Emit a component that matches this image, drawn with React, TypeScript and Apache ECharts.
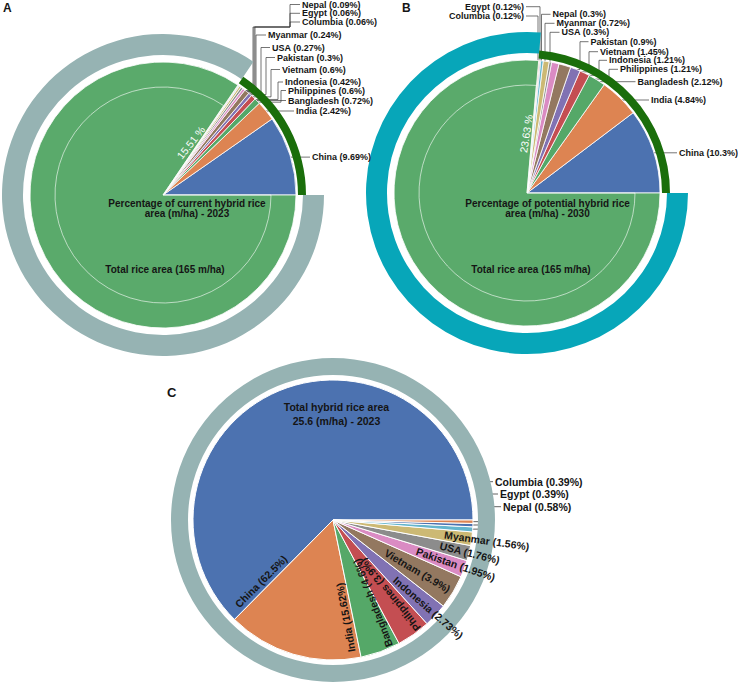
import React, { useEffect, useRef } from "react";
import * as echarts from "echarts";

// ---------- data ----------
const countries = ["China", "India", "Bangladesh", "Philippines", "Indonesia", "Vietnam", "Pakistan", "USA", "Myanmar", "Nepal", "Egypt", "Columbia"];
// % of total rice area under hybrid rice, 2023 (panel A)
const currentShare2023 = [9.69, 2.42, 0.72, 0.6, 0.42, 0.6, 0.3, 0.27, 0.24, 0.09, 0.06, 0.06];
// % of total rice area, potential hybrid rice, 2030 (panel B)
const potentialShare2030 = [10.3, 4.84, 2.12, 1.21, 1.21, 1.45, 0.9, 0.3, 0.72, 0.3, 0.12, 0.12];
// share of total hybrid rice area, 2023 (panel C)
const hybridAreaShare2023 = [62.5, 15.62, 4.6, 3.9, 2.73, 3.9, 1.95, 1.76, 1.56, 0.58, 0.39, 0.39];
const hybridTotalA = 15.51;
const hybridTotalB = 23.63;
const totalRiceArea = 165;
const totalHybridArea = 25.6;

// ---------- style / layout ----------
const FONT = "'Liberation Sans', Arial, Helvetica, sans-serif";
const countryColors = ["#4C72B0", "#DD8452", "#55A868", "#C44E52", "#8172B3", "#937860", "#DA8BC3", "#8C8C8C", "#CCB974", "#64B5CD", "#4C72B0", "#DD8452"];
const restGreen = "#5AAA6B";
const darkGreen = "#1A6E0B";
const greyRing = "#96B3B3";
const tealRing = "#07A6B9";
const TRANSPARENT = "rgba(0,0,0,0)";
const TXT = "#151515";

const CA = [163, 195];
const CB = [527, 193];
const CC = [333, 520];
const R_AB = 133;
const R_C = 140;

type Place = { lx: number; ly?: number; ex?: number; ey?: number; vx?: number; right?: boolean };

const placeA: Place[] = [
  { lx: 312 },
  { lx: 296, ly: 111 },
  { lx: 288, ly: 100.5 },
  { lx: 288, ly: 90.5, ex: 281 },
  { lx: 285, ly: 82, ex: 278 },
  { lx: 282, ly: 69.5, ex: 271 },
  { lx: 277, ly: 57.5, ex: 266 },
  { lx: 272, ly: 47.5, ex: 261 },
  { lx: 268, ly: 35, ex: 256 },
  { lx: 302, ly: 4.5, vx: 255, ex: 290, ey: 27 },
  { lx: 302, ly: 13.3, vx: 254, ex: 290, ey: 27 },
  { lx: 302, ly: 22, vx: 253, ex: 290, ey: 27 },
];

const placeB: Place[] = [
  { lx: 679 },
  { lx: 651, ly: 100 },
  { lx: 637.5, ly: 81.7 },
  { lx: 620, ly: 69.3, ex: 609 },
  { lx: 609, ly: 60.3, ex: 599 },
  { lx: 600, ly: 51.7, ex: 589 },
  { lx: 590.5, ly: 41.7, ex: 580 },
  { lx: 561.5, ly: 32.3, ex: 550 },
  { lx: 556.5, ly: 23.3, ex: 545 },
  { lx: 552.5, ly: 14.3, ex: 541.5 },
  { lx: 524, ly: 6.7, ex: 540, right: true },
  { lx: 524, ly: 16, ex: 538, right: true },
];

type InPlace = { a: number; r: number; rot: number };
const placeCInside: (InPlace | null)[] = [
  { a: 220.7, r: 94.6, rot: 45 },
  { a: -82.7, r: 98.3, rot: 100 },
  { a: -64.5, r: 92, rot: 111 },
  { a: -52.5, r: 94, rot: 129 },
  { a: -42.6, r: 129.4, rot: -41 },
  { a: -31, r: 98.6, rot: -30.5 },
  { a: -19.8, r: 130.5, rot: -19 },
  { a: -13.7, r: 140.7, rot: -14 },
  { a: -7.8, r: 155.1, rot: -8 },
  null,
  null,
  null,
];
const placeCOutside: (Place | null)[] = [
  null, null, null, null, null, null, null, null, null,
  { lx: 503, ly: 506.7, ex: 493 },
  { lx: 500, ly: 494, ex: 488 },
  { lx: 495, ly: 481.7, ex: 483 },
];

const sum = (a: number[]) => a.reduce((s, v) => s + v, 0);

function midAngles(values: number[], total: number) {
  let cum = 0;
  return values.map((v) => {
    const m = ((cum + v / 2) / total) * 360;
    cum += v;
    return m;
  });
}

function polar(c: number[], r: number, deg: number) {
  const a = (deg * Math.PI) / 180;
  return [c[0] + r * Math.cos(a), c[1] - r * Math.sin(a)];
}

function outsideLayout(center: number[], radius: number, values: number[], total: number, places: (Place | null)[], sf: number) {
  const mids = midAngles(values, total);
  return (params: any) => {
    const p = places[params.dataIndex];
    if (!p) return {};
    const [sx, sy] = polar(center, radius * sf, mids[params.dataIndex]);
    const ly = p.ly ?? sy;
    const ey = p.ey ?? sy;
    const ex = p.ex ?? sx;
    const vx = p.vx ?? sx;
    const right = !!p.right;
    const endX = right ? p.lx + 2 : p.lx - 2;
    return {
      x: p.lx,
      y: ly,
      align: right ? "right" : "left",
      verticalAlign: "middle",
      labelLinePoints: [[sx, sy], [vx, sy], [vx, ey], [ex, ey], [ex, ly], [endX, ly]],
    };
  };
}

function countryData(values: number[], restValue: number | null) {
  const d: any[] = values.map((v, i) => ({
    name: countries[i],
    value: v,
    itemStyle: { color: countryColors[i] },
  }));
  if (restValue != null) {
    d.push({
      name: "rest",
      value: restValue,
      itemStyle: { color: restGreen },
      label: { show: false },
      labelLine: { show: false },
    });
  }
  return d;
}

function buildPanelAB(center: number[], values: number[], hybridTotal: number, ringColor: string, places: Place[]) {
  const rest = 100 - hybridTotal;
  const total = sum(values) + rest;
  const boundary = (hybridTotal / 100) * 360;
  return [
    {
      type: "pie",
      center,
      radius: [140, 161],
      startAngle: 0,
      clockwise: false,
      silent: true,
      label: { show: false },
      labelLine: { show: false },
      data: [
        { value: hybridTotal, itemStyle: { color: TRANSPARENT } },
        { value: rest, itemStyle: { color: ringColor } },
      ],
    },
    {
      type: "pie",
      center,
      radius: [135, 143],
      startAngle: 0,
      clockwise: false,
      silent: true,
      label: { show: false },
      labelLine: { show: false },
      data: [
        { value: hybridTotal, itemStyle: { color: darkGreen } },
        { value: rest, itemStyle: { color: TRANSPARENT } },
      ],
    },
    {
      type: "pie",
      center,
      radius: [0, R_AB],
      startAngle: 0,
      clockwise: false,
      silent: true,
      avoidLabelOverlap: false,
      itemStyle: { borderColor: "#ffffff", borderWidth: 0.8 },
      label: {
        show: true,
        position: "outside",
        formatter: (p: any) => `${p.name} (${p.value}%)`,
        fontFamily: FONT,
        fontSize: 9,
        fontWeight: "bold",
        color: TXT,
        overflow: "none",
      },
      labelLine: { show: true, showAbove: true, smooth: false, lineStyle: { color: "#3a3a3a", width: 0.7 } },
      labelLayout: outsideLayout(center, R_AB, values, total, places, 0.95),
      data: countryData(values, rest),
    },
    {
      type: "pie",
      center,
      radius: [0, 108],
      startAngle: 0,
      clockwise: false,
      silent: true,
      label: { show: false },
      labelLine: { show: false },
      labelLayout: (params: any) => {
        if (params.dataIndex !== 1) return {};
        const [px, py] = polar(center, 59, boundary);
        const b = (boundary * Math.PI) / 180;
        return {
          x: px - 6 * Math.sin(b),
          y: py - 6 * Math.cos(b),
          rotate: boundary - 4,
          align: "center",
          verticalAlign: "middle",
        };
      },
      data: [
        { value: hybridTotal, itemStyle: { color: TRANSPARENT, borderWidth: 0 } },
        {
          value: rest,
          itemStyle: { color: TRANSPARENT, borderColor: "rgba(255,255,255,0.85)", borderWidth: 0.7 },
          label: {
            show: true,
            position: "inside",
            formatter: `${hybridTotal} %`,
            fontFamily: FONT,
            fontSize: 10.5,
            color: "#ffffff",
          },
        },
      ],
    },
  ];
}

function buildPanelC() {
  const total = sum(hybridAreaShare2023);
  const mids = midAngles(hybridAreaShare2023, total);
  const data = countryData(hybridAreaShare2023, null).map((d: any, i: number) => {
    if (placeCOutside[i]) {
      return { ...d, label: { position: "outside" }, labelLine: { show: true, showAbove: true } };
    }
    return d;
  });
  return [
    {
      type: "pie",
      center: CC,
      radius: [145, 162],
      silent: true,
      label: { show: false },
      labelLine: { show: false },
      data: [{ value: 1, itemStyle: { color: greyRing } }],
    },
    {
      type: "pie",
      center: CC,
      radius: [0, R_C],
      startAngle: 0,
      clockwise: false,
      silent: true,
      avoidLabelOverlap: false,
      itemStyle: { borderColor: "#ffffff", borderWidth: 1 },
      label: {
        show: true,
        position: "inside",
        formatter: (p: any) => `${p.name} (${p.value}%)`,
        fontFamily: FONT,
        fontSize: 10.5,
        fontWeight: "bold",
        color: TXT,
        overflow: "none",
      },
      labelLine: { show: false, lineStyle: { color: "#3a3a3a", width: 0.8 } },
      labelLayout: (params: any) => {
        const i = params.dataIndex;
        const ip = placeCInside[i];
        if (ip) {
          const [x, y] = polar(CC, ip.r, ip.a);
          return { x, y, rotate: ip.rot, align: "center", verticalAlign: "middle" };
        }
        const p = placeCOutside[i];
        if (!p) return {};
        const [sx, sy] = polar(CC, R_C * 0.97, mids[i]);
        const ex = p.ex ?? sx;
        const ly = p.ly ?? sy;
        return {
          x: p.lx,
          y: ly,
          align: "left",
          verticalAlign: "middle",
          labelLinePoints: [[sx, sy], [ex, sy], [ex, ly], [p.lx - 2, ly]],
        };
      },
      data,
    },
  ];
}

function text(x: number, y: number, t: string, size: number, weight: string, align: string, lineHeight?: number) {
  return {
    type: "text",
    x,
    y,
    silent: true,
    z: 100,
    style: {
      text: t,
      fill: TXT,
      font: `${weight} ${size}px ${FONT}`,
      align,
      verticalAlign: "middle",
      lineHeight: lineHeight ?? size * 1.2,
    },
  };
}

export default function App() {
  const ref = useRef<HTMLDivElement>(null);
  useEffect(() => {
    if (!ref.current) return;
    const chart = echarts.init(ref.current, null, { renderer: "svg" });
    const option: any = {
      animation: false,
      backgroundColor: "#ffffff",
      series: [
        ...buildPanelAB(CA, currentShare2023, hybridTotalA, greyRing, placeA),
        ...buildPanelAB(CB, potentialShare2030, hybridTotalB, tealRing, placeB),
        ...buildPanelC(),
      ],
      graphic: [
        text(3, 8, "A", 12, "bold", "left"),
        text(402, 8, "B", 12, "bold", "left"),
        text(167, 392, "C", 13, "bold", "left"),
        text(187, 208.5, "Percentage of current hybrid rice\narea (m/ha) - 2023", 10, "bold", "center", 10.5),
        text(165, 269.5, `Total rice area (${totalRiceArea} m/ha)`, 10, "bold", "center"),
        text(547.5, 208.5, "Percentage of potential hybrid rice\narea (m/ha) - 2030", 10, "bold", "center", 10.5),
        text(531, 269.5, `Total rice area (${totalRiceArea} m/ha)`, 10, "bold", "center"),
        text(336.5, 414, `Total hybrid rice area\n${totalHybridArea} (m/ha) - 2023`, 10.5, "bold", "center", 13.3),
      ],
    };
    chart.setOption(option);
    return () => chart.dispose();
  }, []);
  return (
    <div
      ref={ref}
      style={{ position: "fixed", left: 0, top: 0, width: 738, height: 684, background: "#fff" }}
    />
  );
}
